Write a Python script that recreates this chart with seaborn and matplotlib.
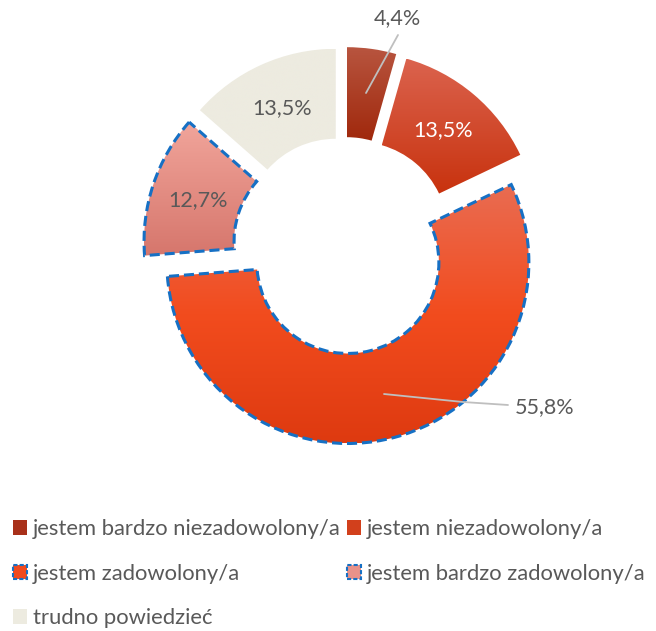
import numpy as np
import matplotlib.pyplot as plt
import seaborn as sns
from matplotlib.patches import Patch
from matplotlib.colors import to_rgb

# data
categories = ['jestem bardzo niezadowolony/a', 'jestem niezadowolony/a',
              'jestem zadowolony/a', 'jestem bardzo zadowolony/a', 'trudno powiedzieć']
values = [4.4, 13.5, 55.8, 12.7, 13.5]
value_labels = ['4,4%', '13,5%', '55,8%', '12,7%', '13,5%']

# gradient stops per slice, top -> bottom
grad_colors = [
    ['#B8553F', '#A0280C'],
    ['#DB634E', '#C8320E'],
    ['#E96C52', '#F24C1E', '#DE3A10'],
    ['#F1A59B', '#D6766C'],
    ['#EDEBE0', '#EDEBE0'],
]
legend_colors = ['#A8301A', '#D2401C', '#F04A1E', '#E8928A', '#EDEBE0']
dashed = [False, False, True, True, False]
explode = [20, 20, 15, 20, 20]
blue = '#1670C4'
text_gray = '#595959'

sns.set_theme(style='white')
plt.rcParams['font.family'] = ['Lato', 'DejaVu Sans']

H = 631
fig = plt.figure(figsize=(6.56, 6.31), dpi=100)
ax = fig.add_axes([0, 0, 1, 1])

wedges, _ = ax.pie(values, radius=181, center=(344, H - 248), startangle=90,
                   counterclock=False, explode=explode,
                   wedgeprops=dict(width=90, linewidth=0))

for w, cols, d in zip(wedges, grad_colors, dashed):
    ext = w.get_path().get_extents(w.get_patch_transform())
    stops = np.array([to_rgb(c) for c in cols])
    t = np.linspace(0, 1, 256)
    pos = np.linspace(0, 1, len(stops))
    grad = np.stack([np.interp(t, pos, stops[:, k]) for k in range(3)], axis=-1)
    img = grad[:, None, :]  # row 0 = top
    im = ax.imshow(img, extent=(ext.x0, ext.x1, ext.y0, ext.y1), origin='upper',
                   aspect='auto', zorder=2, interpolation='bilinear')
    im.set_clip_path(w)
    w.set_facecolor('none')
    w.set_zorder(3)
    if d:
        w.set_edgecolor(blue)
        w.set_linewidth(2.2)
        w.set_linestyle((0, (3.3, 1.6)))

# value labels
fs = 15.5
ax.text(397, H - 18, value_labels[0], ha='center', va='center', fontsize=fs, color=text_gray)
ax.plot([366, 398], [H - 93, H - 35], color='#BFBFBF', lw=1.3, zorder=4)
ax.text(443, H - 130, value_labels[1], ha='center', va='center', fontsize=fs, color='white', zorder=5)
ax.text(515, H - 407, value_labels[2], ha='left', va='center', fontsize=fs, color=text_gray)
ax.plot([384, 463, 508], [H - 394, H - 402, H - 405], color='#BFBFBF', lw=1.3, zorder=4)
ax.text(198, H - 200, value_labels[3], ha='center', va='center', fontsize=fs, color=text_gray, zorder=5)
ax.text(282, H - 108, value_labels[4], ha='center', va='center', fontsize=fs, color=text_gray, zorder=5)

ax.set_xlim(0, 656)
ax.set_ylim(0, H)
ax.set_aspect('auto')
ax.axis('off')

# legend
handles = []
for c, d in zip(legend_colors, dashed):
    if d:
        handles.append(Patch(facecolor=c, edgecolor=blue, linestyle=(0, (2, 1)), linewidth=1.5))
    else:
        handles.append(Patch(facecolor=c, edgecolor='none'))
order = [0, 2, 4, 1, 3]
fig.legend([handles[i] for i in order], [categories[i] for i in order],
           loc='upper left', bbox_to_anchor=(13 / 656, 1 - 519 / H), ncol=2,
           frameon=False, fontsize=15.8, labelcolor=text_gray, borderpad=0,
           borderaxespad=0, handlelength=0.64, handleheight=0.64,
           handletextpad=0.27, columnspacing=0.3, labelspacing=1.12)

fig.savefig('out.png', dpi=100)
